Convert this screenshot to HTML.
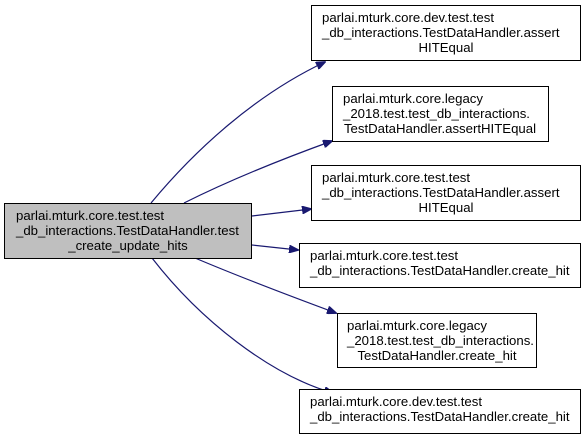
<!DOCTYPE html>
<html><head><meta charset="utf-8"><style>
html,body{margin:0;padding:0;background:#fff;}
svg{display:block;}
text{font-family:"Liberation Sans",sans-serif;font-size:13.2px;fill:#000;}
</style></head><body>
<svg width="587" height="439" viewBox="0 0 587 439" xmlns="http://www.w3.org/2000/svg">
<defs><marker id="a" markerWidth="10" markerHeight="8" refX="9" refY="4" orient="auto" markerUnits="userSpaceOnUse"><path d="M0,0 L10,4 L0,8 Z" fill="#191970" stroke="#191970"/></marker></defs>
<g fill="none" stroke="#191970" stroke-width="1.2" marker-end="url(#a)">
<path d="M151,203 C195,150 255,95 325,62"/>
<path d="M184,203 C230,180 285,158 332,141"/>
<path d="M252,216 L311,209"/>
<path d="M252,245 L298,250"/>
<path d="M195,258 C240,277 290,296 336,313"/>
<path d="M152,258 C200,320 270,375 333,393"/>
</g>
<g stroke="#000" stroke-width="1">
<rect x="4.5" y="203.5" width="247" height="55" fill="#bfbfbf"/>
<rect x="311.5" y="5.5" width="269" height="55" fill="#fff"/>
<rect x="332.5" y="86.5" width="216" height="55" fill="#fff"/>
<rect x="311.5" y="165.5" width="269" height="55" fill="#fff"/>
<rect x="299.5" y="243.5" width="281" height="44" fill="#fff"/>
<rect x="337.5" y="313.5" width="199" height="54" fill="#fff"/>
<rect x="299.5" y="389.5" width="281" height="44" fill="#fff"/>
</g>
<text x="16" y="220">parlai.mturk.core.test.test</text>
<text x="16" y="235">_db_interactions.TestDataHandler.test</text>
<text x="128" y="250" text-anchor="middle">_create_update_hits</text>

<text x="322" y="22">parlai.mturk.core.dev.test.test</text>
<text x="322" y="37">_db_interactions.TestDataHandler.assert</text>
<text x="446" y="52" text-anchor="middle">HITEqual</text>

<text x="343" y="103">parlai.mturk.core.legacy</text>
<text x="343" y="118">_2018.test.test_db_interactions.</text>
<text x="440" y="133" text-anchor="middle">TestDataHandler.assertHITEqual</text>

<text x="322" y="182">parlai.mturk.core.test.test</text>
<text x="322" y="197">_db_interactions.TestDataHandler.assert</text>
<text x="446" y="212" text-anchor="middle">HITEqual</text>

<text x="310" y="260">parlai.mturk.core.test.test</text>
<text x="310" y="275">_db_interactions.TestDataHandler.create_hit</text>

<text x="347" y="330">parlai.mturk.core.legacy</text>
<text x="347" y="345">_2018.test.test_db_interactions.</text>
<text x="437" y="360" text-anchor="middle">TestDataHandler.create_hit</text>

<text x="310" y="406">parlai.mturk.core.dev.test.test</text>
<text x="310" y="421">_db_interactions.TestDataHandler.create_hit</text>
</svg>
</body></html>
